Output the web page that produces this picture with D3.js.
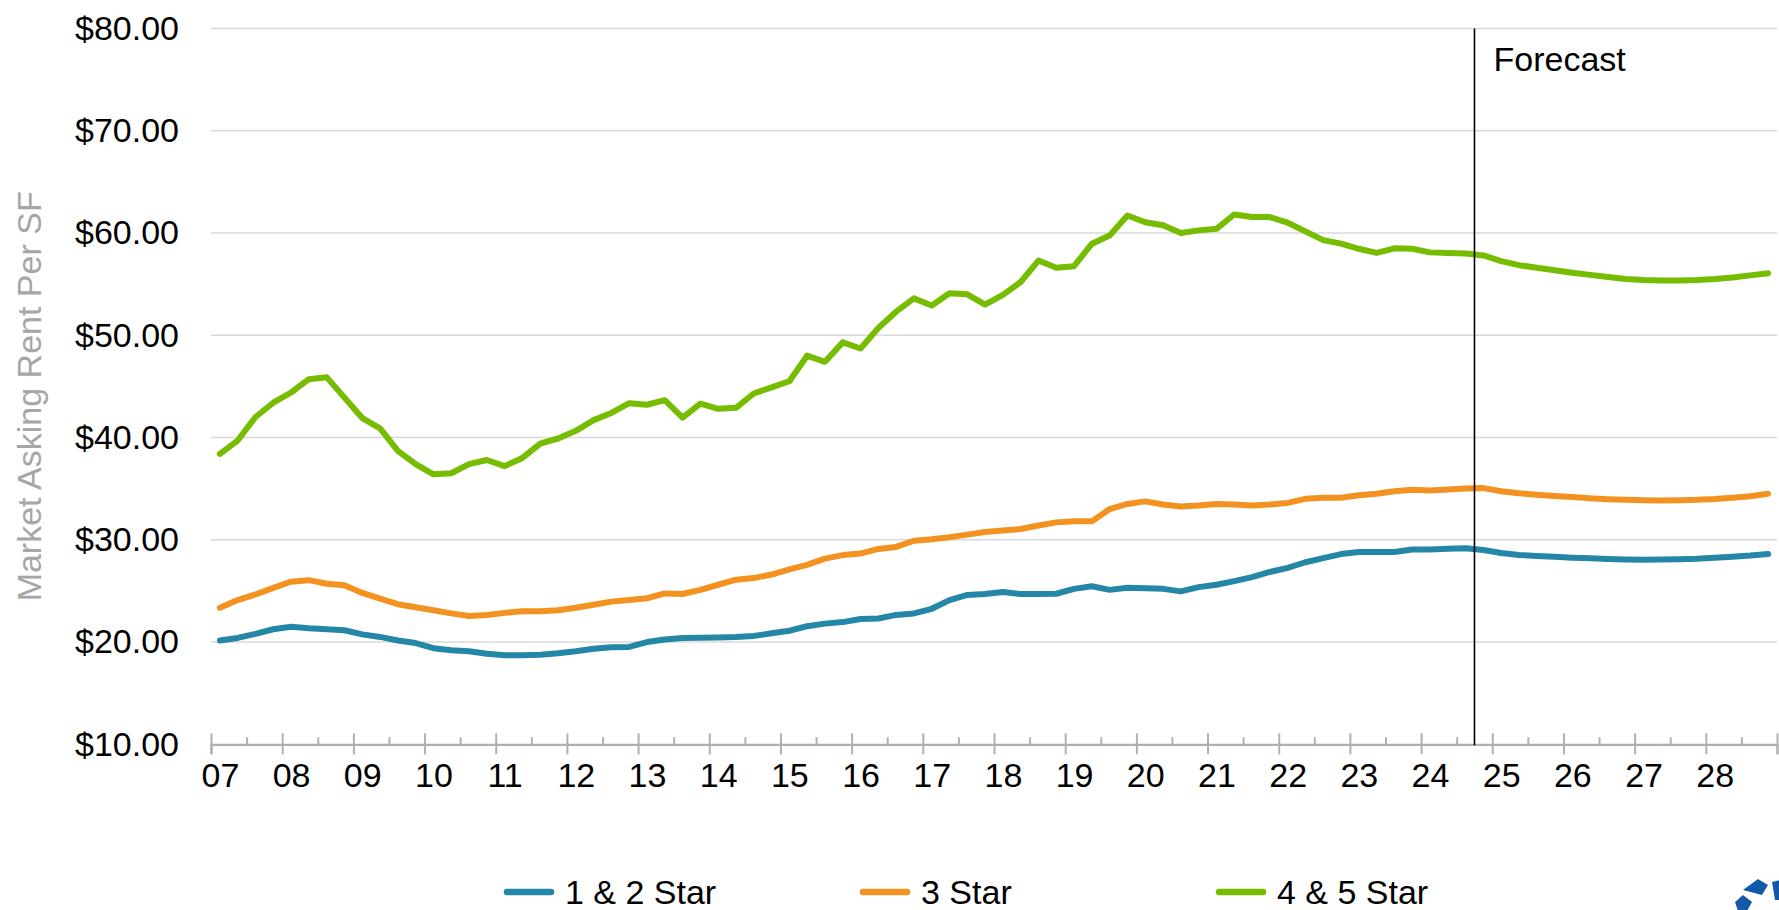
<!DOCTYPE html>
<html>
<head>
<meta charset="utf-8">
<script src="https://cdn.jsdelivr.net/npm/d3@7"></script>
<style>
  body { margin: 0; background: #fff; }
  svg { display: block; font-family: "Liberation Sans", Arial, sans-serif; }
</style>
</head>
<body>
<svg width="1779" height="910"></svg>
<script>
// quarterly series, 2007 Q1 .. 2028 Q4
var startYear = 2007, endYear = 2029;
var seriesNames = ["1 & 2 Star", "3 Star", "4 & 5 Star"];
var seriesColors = ["#2587a7", "#f39220", "#76bc00"];

var star12 = [
  20.15, 20.4, 20.8, 21.25,  21.5, 21.35, 21.25, 21.15,  20.75, 20.5, 20.15, 19.9,
  19.4, 19.2, 19.1, 18.85,   18.7, 18.7, 18.75, 18.9,    19.1, 19.35, 19.5, 19.52,
  20.0, 20.25, 20.4, 20.42,  20.45, 20.5, 20.6, 20.85,   21.1, 21.55, 21.8, 21.95,
  22.25, 22.3, 22.65, 22.8,  23.25, 24.1, 24.6, 24.7,    24.9, 24.7, 24.7, 24.72,
  25.2, 25.45, 25.1, 25.3,   25.27, 25.2, 24.95, 25.37,  25.6, 25.95, 26.35, 26.85,
  27.25, 27.8, 28.2, 28.6,   28.8, 28.8, 28.8, 29.05,    29.05, 29.12, 29.18, 29.0,
  28.7, 28.52, 28.42, 28.33, 28.25, 28.18, 28.12, 28.07, 28.05, 28.07, 28.1, 28.15,
  28.25, 28.35, 28.45, 28.6
];
var star3 = [
  23.35, 24.1, 24.65, 25.3,  25.9, 26.05, 25.7, 25.55,   24.8, 24.25, 23.7, 23.4,
  23.1, 22.8, 22.55, 22.65,  22.85, 23.0, 23.0, 23.1,    23.35, 23.65, 23.95, 24.12,
  24.28, 24.75, 24.7, 25.1,  25.6, 26.1, 26.25, 26.6,    27.1, 27.55, 28.15, 28.5,
  28.65, 29.1, 29.3, 29.9,   30.05, 30.25, 30.5, 30.75,  30.9, 31.05, 31.4, 31.7,
  31.8, 31.8, 33.0, 33.5,    33.75, 33.45, 33.25, 33.35, 33.5, 33.45, 33.35, 33.45,
  33.6, 34.0, 34.1, 34.1,    34.35, 34.5, 34.75, 34.9,   34.82, 34.92, 35.0, 35.05,
  34.75, 34.55, 34.4, 34.28, 34.18, 34.05, 33.97, 33.9,  33.86, 33.85, 33.86, 33.9,
  33.98, 34.1, 34.25, 34.5
];
var star45 = [
  38.4, 39.7, 42.0, 43.4,    44.4, 45.7, 45.9, 43.9,     41.9, 40.9, 38.7, 37.4,
  36.4, 36.5, 37.4, 37.8,    37.2, 38.0, 39.4, 39.9,     40.65, 41.7, 42.4, 43.35,
  43.2, 43.65, 41.95, 43.3,  42.8, 42.9, 44.3, 44.9,     45.5, 48.0, 47.4, 49.3,
  48.7, 50.7, 52.3, 53.6,    52.9, 54.1, 54.0, 53.0,     53.95, 55.2, 57.3, 56.6,
  56.75, 58.95, 59.75, 61.7, 61.05, 60.75, 60.0, 60.25,  60.4, 61.8, 61.55, 61.55,
  61.0, 60.15, 59.3, 58.95,  58.45, 58.05, 58.5, 58.45,  58.1, 58.05, 58.0, 57.8,
  57.25, 56.85, 56.6, 56.35, 56.1, 55.9, 55.7, 55.5,     55.4, 55.35, 55.35, 55.4,
  55.5, 55.65, 55.85, 56.05
];
var yTicks = [10, 20, 30, 40, 50, 60, 70, 80];
var forecastStart = 2024.75;   // end of Q3 2024

var svg = d3.select("svg");
var plotLeft = 211, plotRight = 1777, plotTop = 28.4, plotBottom = 744.3;

var x = d3.scaleLinear().domain([startYear, endYear]).range([plotLeft, plotRight]);
var y = d3.scaleLinear().domain([10, 80]).range([plotBottom, plotTop]);

// each quarter is plotted in the middle of its quarter
function qx(i) { return startYear + Math.floor(i / 4) + (i % 4) / 4 + 0.125; }

var years = d3.range(startYear, endYear + 1);

// gridlines
svg.append("g").selectAll("line")
  .data(yTicks.slice(1))
  .join("line")
  .attr("x1", plotLeft).attr("x2", plotRight)
  .attr("y1", function(d) { return y(d); })
  .attr("y2", function(d) { return y(d); })
  .attr("stroke", "#d9d9d9").attr("stroke-width", 1.5);

// y axis labels
var yAxis = svg.append("g")
  .attr("transform", "translate(" + plotLeft + ",0)")
  .call(d3.axisLeft(y).tickValues(yTicks).tickSize(0).tickPadding(32)
    .tickFormat(function(d) { return "$" + d.toFixed(2); }));
yAxis.select(".domain").remove();
yAxis.selectAll("text").attr("font-size", 34).attr("fill", "#000")
  .attr("font-family", "Liberation Sans, Arial, sans-serif");

// y title
svg.append("text")
  .attr("transform", "translate(41," + ((plotTop + plotBottom) / 2 + 10) + ") rotate(-90)")
  .attr("text-anchor", "middle")
  .attr("font-size", 34)
  .attr("fill", "#a6a6a6")
  .text("Market Asking Rent Per SF");

// x axis: major ticks cross the line, minor ticks point up
var xMajor = svg.append("g")
  .attr("transform", "translate(0," + plotBottom + ")")
  .call(d3.axisBottom(x).tickValues(years).tickSize(10).tickFormat(""));
xMajor.select(".domain").attr("stroke", "#b0b0b0").attr("stroke-width", 2.2);
xMajor.selectAll(".tick line").attr("y1", -11).attr("stroke", "#b0b0b0").attr("stroke-width", 2);

var xMinor = svg.append("g")
  .attr("transform", "translate(0," + plotBottom + ")")
  .call(d3.axisBottom(x).tickValues(years.slice(0, -1).map(function(d) { return d + 0.5; }))
    .tickSize(0).tickFormat(""));
xMinor.select(".domain").remove();
xMinor.selectAll(".tick line").attr("y1", -7).attr("y2", 0)
  .attr("stroke", "#b0b0b0").attr("stroke-width", 2);

var xLabels = svg.append("g")
  .attr("transform", "translate(0," + plotBottom + ")")
  .call(d3.axisBottom(x).tickValues(years.slice(0, -1).map(function(d) { return d + 0.125; }))
    .tickSize(0).tickPadding(19)
    .tickFormat(function(d) { return String(Math.floor(d)).slice(2); }));
xLabels.select(".domain").remove();
xLabels.selectAll("text").attr("font-size", 34).attr("fill", "#000")
  .attr("font-family", "Liberation Sans, Arial, sans-serif");

// series
var allSeries = [star12, star3, star45];
var line = d3.line()
  .x(function(d, i) { return x(qx(i)); })
  .y(function(d) { return y(d); });

svg.append("g").selectAll("path")
  .data(allSeries)
  .join("path")
  .attr("d", line)
  .attr("fill", "none")
  .attr("stroke", function(d, i) { return seriesColors[i]; })
  .attr("stroke-width", 6)
  .attr("stroke-linejoin", "round")
  .attr("stroke-linecap", "round");

// forecast marker
svg.append("line")
  .attr("x1", x(forecastStart)).attr("x2", x(forecastStart))
  .attr("y1", y(80)).attr("y2", plotBottom + 1)
  .attr("stroke", "#000").attr("stroke-width", 1.6);
svg.append("text")
  .attr("x", x(forecastStart) + 19).attr("y", 70.5)
  .attr("font-size", 34).attr("fill", "#000")
  .text("Forecast");

// legend
var lx = d3.scalePoint().domain(seriesNames).range([505, 1217]);
var legend = svg.append("g").selectAll("g")
  .data(seriesNames)
  .join("g")
  .attr("transform", function(d) { return "translate(" + lx(d) + ",892)"; });
legend.append("line")
  .attr("x1", 2).attr("x2", 46)
  .attr("stroke", function(d, i) { return seriesColors[i]; })
  .attr("stroke-width", 6.5).attr("stroke-linecap", "round");
legend.append("text")
  .attr("x", 60).attr("y", 11.5)
  .attr("font-size", 34).attr("fill", "#000")
  .text(function(d) { return d; });

// corner logo, cut off by the edge
var logo = svg.append("g").attr("fill", "#1459a8");
logo.append("polygon").attr("points", "1743,890 1758,879 1768,885 1762,895");
logo.append("polygon").attr("points", "1735,902 1743,895 1752,902 1747,911 1738,911");
logo.append("polygon").attr("points", "1772,882 1780,880 1780,900 1775,900");
</script>
</body>
</html>
